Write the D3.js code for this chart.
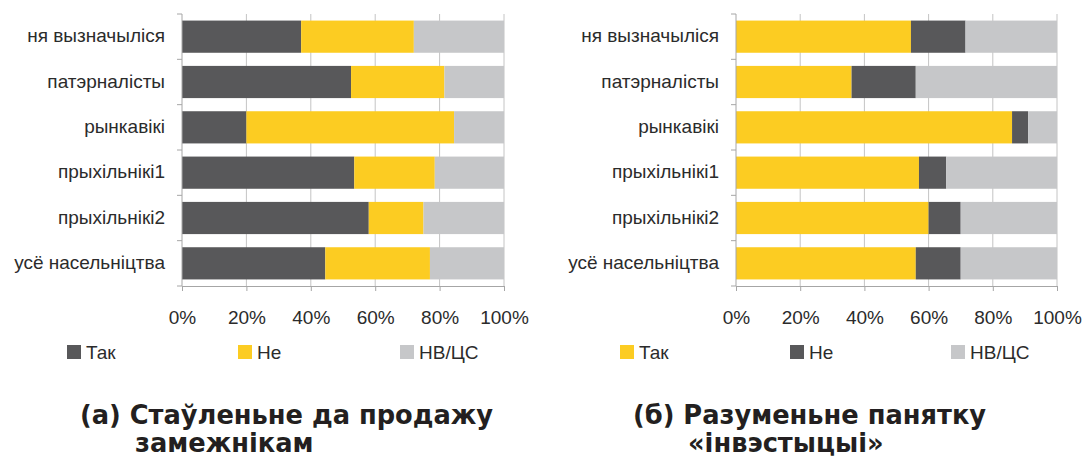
<!DOCTYPE html>
<html><head><meta charset="utf-8">
<script src="https://cdn.jsdelivr.net/npm/d3@7"></script>
<style>
html,body{margin:0;padding:0;background:#fff;}
svg{display:block;}
.sf{font-family:"Liberation Sans",Arial,sans-serif;}
.tf{font-family:"DejaVu Sans",sans-serif;font-weight:bold;}
</style></head>
<body>
<svg id="c" width="1084" height="461"></svg>
<script>
const categories = ["ня вызначыліся","патэрналісты","рынкавікі","прыхільнікі1","прыхільнікі2","усё насельніцтва"];
const seriesNames = ["Так","Не","НВ/ЦС"];
const tickValues = [0, 20, 40, 60, 80, 100];
const tickLabels = ["0%","20%","40%","60%","80%","100%"];
// Chart (a)
const aYes = [37, 52.5, 20, 53.5, 58, 44.5];
const aNo  = [35, 29, 64.5, 25, 17, 32.5];
const aDk  = [28, 18.5, 15.5, 21.5, 25, 23];
// Chart (b)
const bYes = [54.5, 36, 86, 57, 60, 56];
const bNo  = [17, 20, 5, 8.5, 10, 14];
const bDk  = [28.5, 44, 9, 34.5, 30, 30];
const titleA = ["(а) Стаўленьне да продажу", "замежнікам"];
const titleB = ["(б) Разуменьне панятку", "«інвэстыцыі»"];

const DARK = "#58585a", YEL = "#fccc22", GRY = "#c6c7c9";
const svg = d3.select("#c");

function panel(opts){
  const {x0, x1, yes, no, dk, colors, legendX, title, titleX, titleX2} = opts;
  const top = 14, bottom = 286;
  const x = d3.scaleLinear().domain([0,100]).range([x0, x1]);
  const y = d3.scaleBand().domain(categories).range([top, bottom]).paddingInner(0.29).paddingOuter(0.145);
  const g = svg.append("g");
  g.selectAll("line.grid").data(tickValues.slice(1)).join("line")
    .attr("x1", d=>x(d)).attr("x2", d=>x(d)).attr("y1", top).attr("y2", bottom)
    .attr("stroke", "#c4c4c4").attr("stroke-width", 1);
  const rows = categories.map((c,i)=>({cat:c, "Так":yes[i], "Не":no[i], "НВ/ЦС":dk[i]}));
  const stack = d3.stack().keys(seriesNames)(rows);
  g.selectAll("g.s").data(stack).join("g")
    .attr("fill", (d,i)=>colors[i])
    .selectAll("rect").data(d=>d).join("rect")
    .attr("x", d=>x(d[0])).attr("width", d=>x(d[1])-x(d[0]))
    .attr("y", d=>y(d.data.cat)).attr("height", y.bandwidth());
  const step = y.step();
  const bounds = d3.range(categories.length+1).map(k=>top + k*step);
  g.append("line").attr("x1", x0).attr("x2", x0).attr("y1", top).attr("y2", bottom)
    .attr("stroke", "#a6a6a6");
  g.selectAll("line.lt").data(bounds).join("line")
    .attr("x1", x0-5).attr("x2", x0).attr("y1", d=>d).attr("y2", d=>d)
    .attr("stroke", "#a6a6a6");
  const ax = g.append("g").attr("transform", `translate(0,${bottom})`)
    .call(d3.axisBottom(x).tickValues(tickValues).tickFormat((d,i)=>tickLabels[i]).tickSize(5).tickPadding(20).tickSizeOuter(0));
  ax.attr("font-family", null).attr("font-size", null);
  ax.select(".domain").attr("stroke", "#a6a6a6");
  ax.selectAll(".tick line").attr("stroke", "#a6a6a6");
  ax.selectAll(".tick text").attr("class", "sf").style("font-size", "19px").attr("fill", "#2b2b2b");
  const yl = g.append("g").attr("transform", `translate(${x0},0)`)
    .call(d3.axisLeft(y).tickSize(0).tickPadding(17));
  yl.attr("font-family", null).attr("font-size", null);
  yl.select(".domain").remove();
  yl.selectAll(".tick text").attr("class", "sf").style("font-size", "19px").attr("fill", "#2b2b2b")
    .attr("dy", "0.3em");
  const lg = g.selectAll("g.lg").data(seriesNames).join("g")
    .attr("transform", (d,i)=>`translate(${legendX[i]},345)`);
  lg.append("rect").attr("width", 14).attr("height", 14).attr("fill", (d,i)=>colors[i]);
  lg.append("text").attr("class", "sf").attr("x", 19).attr("y", 14).text(d=>d)
    .style("font-size", "19px").attr("fill", "#2b2b2b");
  svg.append("text").attr("class", "tf").attr("x", titleX).attr("y", 424).text(title[0])
    .style("font-size", "25.7px").attr("fill", "#231f20");
  svg.append("text").attr("class", "tf").attr("x", titleX2).attr("y", 452).text(title[1])
    .style("font-size", "25.7px").attr("fill", "#231f20");
}

panel({x0:182, x1:504, yes:aYes, no:aNo, dk:aDk, colors:[DARK, YEL, GRY],
  legendX:[67, 238, 400], title:titleA, titleX:80, titleX2:135});
panel({x0:736, x1:1057, yes:bYes, no:bNo, dk:bDk, colors:[YEL, DARK, GRY],
  legendX:[620, 790, 951], title:titleB, titleX:633, titleX2:688});
</script>
</body></html>
